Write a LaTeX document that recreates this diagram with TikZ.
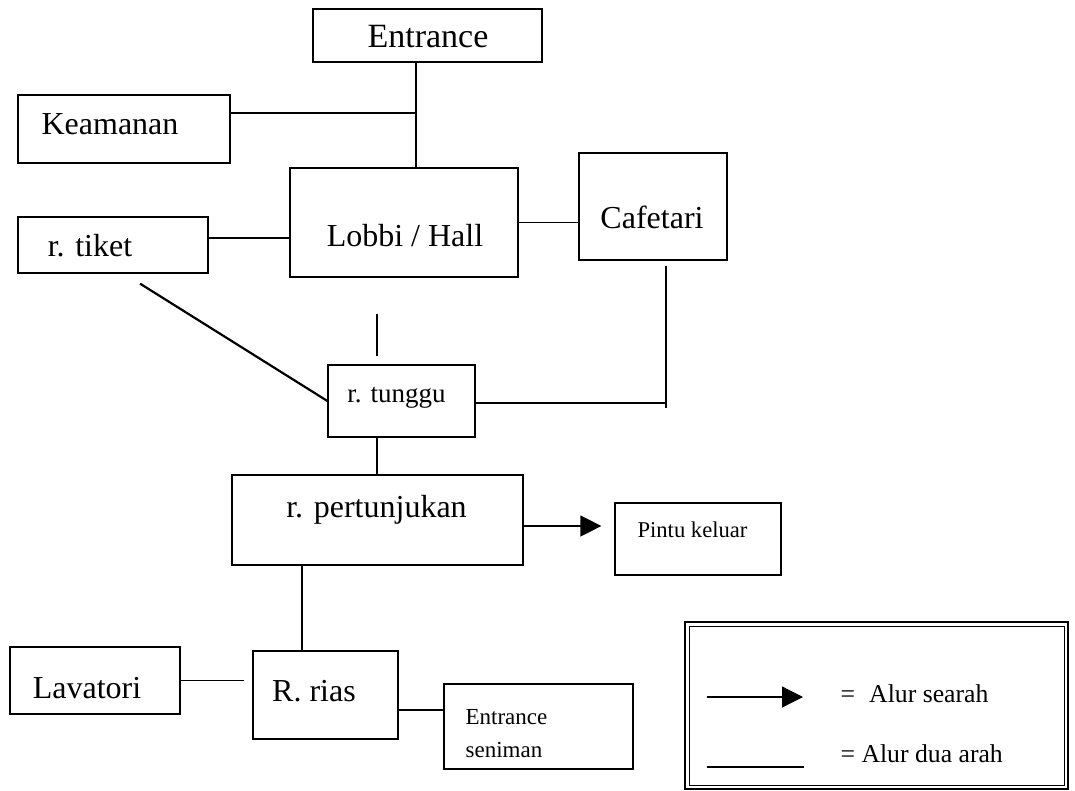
\documentclass[tikz,border=0pt]{standalone}
\usepackage{fontspec}
\setmainfont{Liberation Serif}
\usetikzlibrary{arrows.meta}
\begin{document}
\begin{tikzpicture}[x=1pt, y=-1pt, line width=1.2pt,
  room/.style={draw, rectangle, inner sep=0pt, line width=1.2pt},
  big/.style={anchor=base, inner sep=0pt, font=\fontsize{32}{38}\selectfont},
  mid/.style={anchor=base, inner sep=0pt, font=\fontsize{27}{32}\selectfont},
  small/.style={anchor=base, inner sep=0pt, font=\fontsize{22.6}{27}\selectfont},
  keytext/.style={anchor=base west, inner sep=0pt, font=\fontsize{25.7}{30}\selectfont},
  oneway/.style={-{Triangle[length=21pt, width=21pt]}}
]
\useasboundingbox (0,0) rectangle (1075,791);

% rooms
\node[room, minimum width=229pt, minimum height=53pt]  (entr)   at (427.5,35.5) {};
\node[room, minimum width=212pt, minimum height=68pt]  (keam)   at (124,129) {};
\node[room, minimum width=190pt, minimum height=56pt]  (tiket)  at (113,245) {};
\node[room, minimum width=228pt, minimum height=109pt] (lobbi)  at (404,222.5) {};
\node[room, minimum width=148pt, minimum height=107pt] (cafe)   at (653,206.5) {};
\node[room, minimum width=147pt, minimum height=72pt]  (tunggu) at (401.5,401) {};
\node[room, minimum width=291pt, minimum height=90pt]  (pert)   at (377.5,520) {};
\node[room, minimum width=166pt, minimum height=72pt]  (pintu)  at (698,539) {};
\node[room, minimum width=170pt, minimum height=67pt]  (lav)    at (95,680.5) {};
\node[room, minimum width=145pt, minimum height=88pt]  (rias)   at (325.5,695) {};
\node[room, minimum width=189pt, minimum height=85pt]  (sen)    at (538.5,726.5) {};

% room names
\node[big, font=\fontsize{34}{40}\selectfont] (entr-t) at (428,48) {Entrance};
\node[big] (keam-t)   at (110,135) {Keamanan};
\node[big] (tiket-t)  at (90,257) {r. tiket};
\node[big] (lobbi-t)  at (405,247) {Lobbi / Hall};
\node[big] (cafe-t)   at (652,229) {Cafetari};
\node[mid] (tunggu-t) at (396.5,402) {r. tunggu};
\node[big] (pert-t)   at (376.5,517) {r. pertunjukan};
\node[small] (pintu-t) at (692.5,537) {Pintu keluar};
\node[big] (lav-t)    at (87,698) {Lavatori};
\node[big] (rias-t)   at (314,701) {R. rias};
\node[small, anchor=base west, font=\fontsize{23}{27}\selectfont] (sen-t1) at (465,724) {Entrance};
\node[small, anchor=base west, font=\fontsize{23}{27}\selectfont] (sen-t2) at (465,757) {seniman};

% helper points for the vertical runs
\coordinate (spine) at (416,113);
\coordinate (lt) at (377,400);
\coordinate (cv) at (666,403);
\coordinate (pr) at (302,600);

% connectors
\draw (entr.south -| spine) -- (lobbi.north -| spine);
\draw (keam.east |- spine) -- (spine);
\draw ([yshift=7pt]tiket.east) -- ([yshift=7pt]tiket.east -| lobbi.west);
\draw (lobbi.east) -- (lobbi.east -| cafe.west);
\draw[shorten <=36pt, shorten >=8pt] (lobbi.south -| lt) -- (tunggu.north -| lt);
\draw[line width=2.2pt] ([xshift=27pt, yshift=-10pt]tiket.south) -- (tunggu.west);
\draw (tunggu.east |- cv) -- (cv);
\draw[shorten <=5pt] (cafe.south -| cv) -- ([yshift=-5pt]cv);
\draw (tunggu.south -| lt) -- (pert.north -| lt);
\draw[oneway, shorten >=13pt] ([yshift=-6pt]pert.east) -- ([yshift=-6pt]pert.east -| pintu.west);
\draw (pert.south -| pr) -- (rias.north -| pr);
\draw[shorten >=8pt] (lav.east) -- (lav.east -| rias.west);
\draw ([yshift=-15pt]rias.east) -- ([yshift=-15pt]rias.east -| sen.west);

% key
\node[draw, line width=2pt, inner sep=0pt, minimum width=383pt, minimum height=167pt] (key) at (876.5,705.5) {};
\draw[line width=1pt] ([shift={(5pt,-5pt)}]key.north west) rectangle ([shift={(-5pt,5pt)}]key.south east);
\coordinate (k1a) at (707,697);
\coordinate (k1b) at (803,697);
\coordinate (k2a) at (707,767);
\coordinate (k2b) at (804,767);
\draw[oneway] (k1a) -- (k1b);
\draw (k2a) -- (k2b);
\node[keytext] (k1t) at (840,702) {=\hspace{0.55em}Alur searah};
\node[keytext] (k2t) at (840,762) {= Alur dua arah};
\end{tikzpicture}
\end{document}
